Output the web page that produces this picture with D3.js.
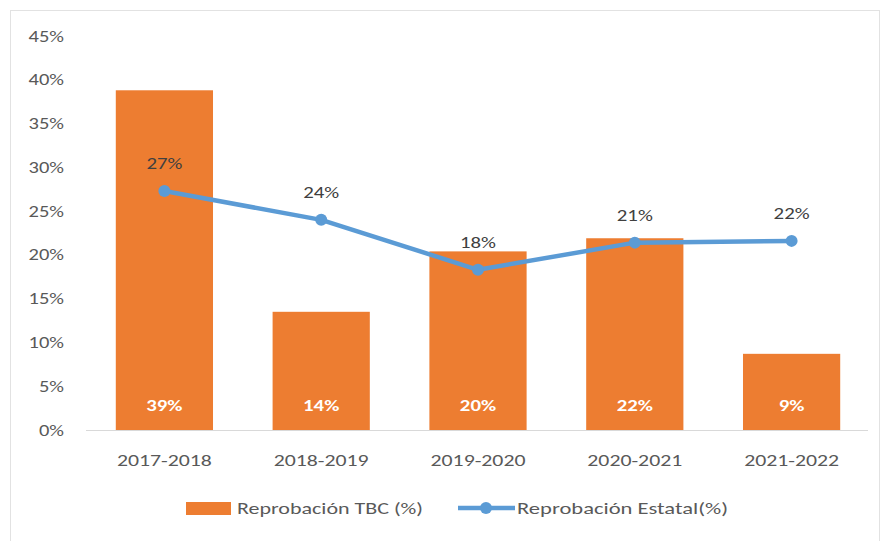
<!DOCTYPE html>
<html>
<head>
<meta charset="utf-8">
<script src="https://cdn.jsdelivr.net/npm/d3@7"></script>
<style>
body{margin:0;background:#fff;}
svg{font-family:Calibri,"Carlito","Open Sans",sans-serif;}
</style>
</head>
<body>
<svg id="chart" width="886" height="541"></svg>
<script>
var periods = ["2017-2018","2018-2019","2019-2020","2020-2021","2021-2022"]
var tbc = [38.8,13.5,20.4,21.9,8.7]
var estatal = [27.3,24.0,18.3,21.4,21.6]
var tbcLabels = ["39%","14%","20%","22%","9%"]
var estatalLabels = ["27%","24%","18%","21%","22%"]
var yTicks = [0,5,10,15,20,25,30,35,40,45]

var svg = d3.select("#chart")
var orange = "#ED7D31", blue = "#5B9BD5", grey = "#595959"

// text in the source image is stretched sideways, so widths are forced with textLength
function stretch(sel, k){
    sel.each(function(){
        var w = this.getComputedTextLength()
        d3.select(this).attr("textLength",w*k).attr("lengthAdjust","spacingAndGlyphs")
    })
}

// outer frame
svg.append("rect").attr("x",10.5).attr("y",10.5).attr("width",869).attr("height",540)
    .attr("fill","none").attr("stroke","#e2e2e2")

var x = d3.scaleBand().domain(periods).range([86,870]).paddingInner(0.38).paddingOuter(0.19)
var y = d3.scaleLinear().domain([0,45]).range([430,36])

// y axis labels
svg.append("g").selectAll("text").data(yTicks).enter().append("text")
    .attr("x",64).attr("y",function(d){return y(d)+5.5})
    .attr("text-anchor","end").attr("fill",grey).style("font-size","16px")
    .text(function(d){return d+"%"})
    .call(stretch,1.28)

// baseline
svg.append("line").attr("x1",86).attr("x2",868).attr("y1",y(0)+0.5).attr("y2",y(0)+0.5)
    .attr("stroke","#d9d9d9")

// bars
svg.selectAll("rect.bar").data(tbc).enter().append("rect").attr("class","bar")
    .attr("x",function(d,i){return x(periods[i])})
    .attr("y",function(d){return y(d)})
    .attr("width",x.bandwidth())
    .attr("height",function(d){return y(0)-y(d)})
    .attr("fill",orange)

svg.selectAll("text.barlab").data(tbc).enter().append("text").attr("class","barlab")
    .attr("x",function(d,i){return x(periods[i])+x.bandwidth()/2})
    .attr("y",y(0)-19)
    .attr("text-anchor","middle").attr("fill","#fff").style("font-size","16px").style("font-weight","bold")
    .text(function(d,i){return tbcLabels[i]})
    .call(stretch,1.3)

// x labels
svg.selectAll("text.xlab").data(periods).enter().append("text").attr("class","xlab")
    .attr("x",function(d){return x(d)+x.bandwidth()/2})
    .attr("y",466)
    .attr("text-anchor","middle").attr("fill",grey).style("font-size","16px")
    .text(function(d){return d})
    .call(stretch,1.36)

// line
var line = d3.line()
    .x(function(d,i){return x(periods[i])+x.bandwidth()/2})
    .y(function(d){return y(d)})
svg.append("path").datum(estatal).attr("d",line)
    .attr("fill","none").attr("stroke",blue).attr("stroke-width",4.5).attr("stroke-linejoin","round")
svg.selectAll("circle.pt").data(estatal).enter().append("circle").attr("class","pt")
    .attr("cx",function(d,i){return x(periods[i])+x.bandwidth()/2})
    .attr("cy",function(d){return y(d)})
    .attr("r",6).attr("fill",blue)
svg.selectAll("text.ptlab").data(estatal).enter().append("text").attr("class","ptlab")
    .attr("x",function(d,i){return x(periods[i])+x.bandwidth()/2})
    .attr("y",function(d){return y(d)-22})
    .attr("text-anchor","middle").attr("fill","#404040").style("font-size","16px")
    .text(function(d,i){return estatalLabels[i]})
    .call(stretch,1.3)

// legend
var lg = svg.append("g")
lg.append("rect").attr("x",186).attr("y",502).attr("width",45).attr("height",13).attr("fill",orange)
lg.append("text").attr("x",237).attr("y",514).attr("fill",grey).style("font-size","16px")
    .text("Reprobación TBC (%)").attr("textLength",186).attr("lengthAdjust","spacingAndGlyphs")
lg.append("line").attr("x1",458).attr("x2",515).attr("y1",508).attr("y2",508).attr("stroke",blue).attr("stroke-width",4.5)
lg.append("circle").attr("cx",486).attr("cy",508).attr("r",6).attr("fill",blue)
lg.append("text").attr("x",517).attr("y",514).attr("fill",grey).style("font-size","16px")
    .text("Reprobación Estatal(%)").attr("textLength",211).attr("lengthAdjust","spacingAndGlyphs")
</script>
</body>
</html>
